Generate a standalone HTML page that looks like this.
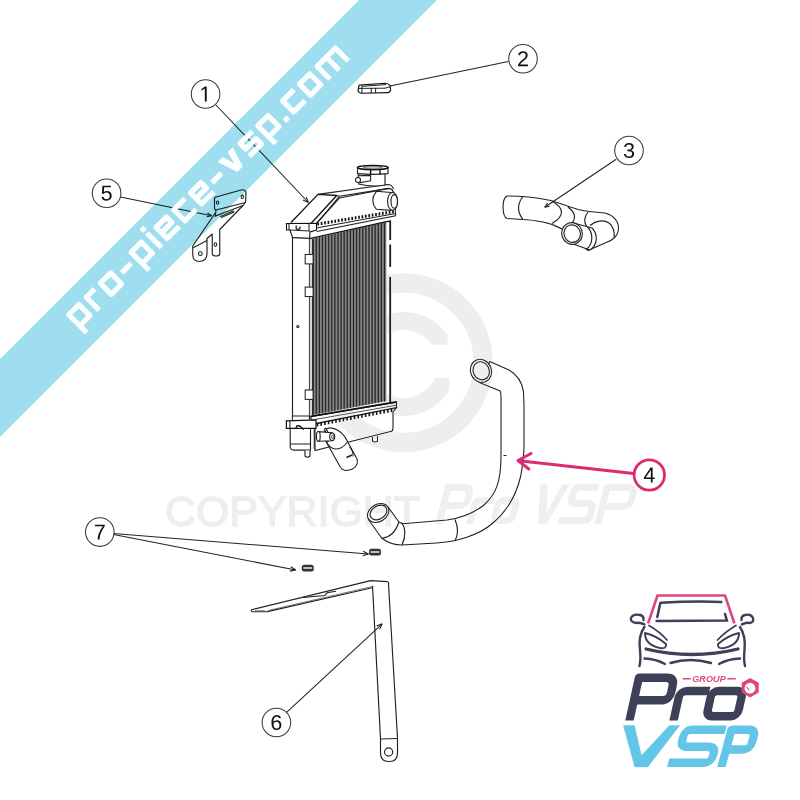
<!DOCTYPE html>
<html><head><meta charset="utf-8"><title>Radiator parts</title>
<style>
html,body{margin:0;padding:0;background:#fff;}
body{width:800px;height:800px;overflow:hidden;font-family:"Liberation Sans",sans-serif;}
svg{display:block;}
.f{fill:#fff;stroke:none;}
</style></head><body>
<svg width="800" height="800" viewBox="0 0 800 800" font-family="Liberation Sans, sans-serif">
<rect width="800" height="800" fill="#fff"/>
<path d="M312,238.9 L386.5,222 L386.5,401 L312,415 Z" fill="#6a6a6a"/>
<line x1="313.20" y1="238.62" x2="313.20" y2="414.69" stroke="#222" stroke-width="1.0"/>
<line x1="314.70" y1="238.62" x2="314.70" y2="414.69" stroke="#9c9c9c" stroke-width="0.7"/>
<line x1="316.30" y1="237.93" x2="316.30" y2="414.12" stroke="#222" stroke-width="1.0"/>
<line x1="317.80" y1="237.93" x2="317.80" y2="414.12" stroke="#9c9c9c" stroke-width="0.7"/>
<line x1="319.40" y1="237.23" x2="319.40" y2="413.54" stroke="#222" stroke-width="1.0"/>
<line x1="320.90" y1="237.23" x2="320.90" y2="413.54" stroke="#9c9c9c" stroke-width="0.7"/>
<line x1="322.50" y1="236.54" x2="322.50" y2="412.97" stroke="#222" stroke-width="1.0"/>
<line x1="324.00" y1="236.54" x2="324.00" y2="412.97" stroke="#9c9c9c" stroke-width="0.7"/>
<line x1="325.60" y1="235.85" x2="325.60" y2="412.40" stroke="#222" stroke-width="1.0"/>
<line x1="327.10" y1="235.85" x2="327.10" y2="412.40" stroke="#9c9c9c" stroke-width="0.7"/>
<line x1="328.70" y1="235.15" x2="328.70" y2="411.83" stroke="#222" stroke-width="1.0"/>
<line x1="330.20" y1="235.15" x2="330.20" y2="411.83" stroke="#9c9c9c" stroke-width="0.7"/>
<line x1="331.80" y1="234.46" x2="331.80" y2="411.26" stroke="#222" stroke-width="1.0"/>
<line x1="333.30" y1="234.46" x2="333.30" y2="411.26" stroke="#9c9c9c" stroke-width="0.7"/>
<line x1="334.90" y1="233.77" x2="334.90" y2="410.69" stroke="#222" stroke-width="1.0"/>
<line x1="336.40" y1="233.77" x2="336.40" y2="410.69" stroke="#9c9c9c" stroke-width="0.7"/>
<line x1="338.00" y1="233.07" x2="338.00" y2="410.12" stroke="#222" stroke-width="1.0"/>
<line x1="339.50" y1="233.07" x2="339.50" y2="410.12" stroke="#9c9c9c" stroke-width="0.7"/>
<line x1="341.10" y1="232.38" x2="341.10" y2="409.55" stroke="#222" stroke-width="1.0"/>
<line x1="342.60" y1="232.38" x2="342.60" y2="409.55" stroke="#9c9c9c" stroke-width="0.7"/>
<line x1="344.20" y1="231.69" x2="344.20" y2="408.98" stroke="#222" stroke-width="1.0"/>
<line x1="345.70" y1="231.69" x2="345.70" y2="408.98" stroke="#9c9c9c" stroke-width="0.7"/>
<line x1="347.30" y1="230.99" x2="347.30" y2="408.41" stroke="#222" stroke-width="1.0"/>
<line x1="348.80" y1="230.99" x2="348.80" y2="408.41" stroke="#9c9c9c" stroke-width="0.7"/>
<line x1="350.40" y1="230.30" x2="350.40" y2="407.83" stroke="#222" stroke-width="1.0"/>
<line x1="351.90" y1="230.30" x2="351.90" y2="407.83" stroke="#9c9c9c" stroke-width="0.7"/>
<line x1="353.50" y1="229.61" x2="353.50" y2="407.26" stroke="#222" stroke-width="1.0"/>
<line x1="355.00" y1="229.61" x2="355.00" y2="407.26" stroke="#9c9c9c" stroke-width="0.7"/>
<line x1="356.60" y1="228.91" x2="356.60" y2="406.69" stroke="#222" stroke-width="1.0"/>
<line x1="358.10" y1="228.91" x2="358.10" y2="406.69" stroke="#9c9c9c" stroke-width="0.7"/>
<line x1="359.70" y1="228.22" x2="359.70" y2="406.12" stroke="#222" stroke-width="1.0"/>
<line x1="361.20" y1="228.22" x2="361.20" y2="406.12" stroke="#9c9c9c" stroke-width="0.7"/>
<line x1="362.80" y1="227.52" x2="362.80" y2="405.55" stroke="#222" stroke-width="1.0"/>
<line x1="364.30" y1="227.52" x2="364.30" y2="405.55" stroke="#9c9c9c" stroke-width="0.7"/>
<line x1="365.90" y1="226.83" x2="365.90" y2="404.98" stroke="#222" stroke-width="1.0"/>
<line x1="367.40" y1="226.83" x2="367.40" y2="404.98" stroke="#9c9c9c" stroke-width="0.7"/>
<line x1="369.00" y1="226.14" x2="369.00" y2="404.41" stroke="#222" stroke-width="1.0"/>
<line x1="370.50" y1="226.14" x2="370.50" y2="404.41" stroke="#9c9c9c" stroke-width="0.7"/>
<line x1="372.10" y1="225.44" x2="372.10" y2="403.84" stroke="#222" stroke-width="1.0"/>
<line x1="373.60" y1="225.44" x2="373.60" y2="403.84" stroke="#9c9c9c" stroke-width="0.7"/>
<line x1="375.20" y1="224.75" x2="375.20" y2="403.27" stroke="#222" stroke-width="1.0"/>
<line x1="376.70" y1="224.75" x2="376.70" y2="403.27" stroke="#9c9c9c" stroke-width="0.7"/>
<line x1="378.30" y1="224.06" x2="378.30" y2="402.69" stroke="#222" stroke-width="1.0"/>
<line x1="379.80" y1="224.06" x2="379.80" y2="402.69" stroke="#9c9c9c" stroke-width="0.7"/>
<line x1="381.40" y1="223.36" x2="381.40" y2="402.12" stroke="#222" stroke-width="1.0"/>
<line x1="382.90" y1="223.36" x2="382.90" y2="402.12" stroke="#9c9c9c" stroke-width="0.7"/>
<line x1="384.50" y1="222.67" x2="384.50" y2="401.55" stroke="#222" stroke-width="1.0"/>
<line x1="386.00" y1="222.67" x2="386.00" y2="401.55" stroke="#9c9c9c" stroke-width="0.7"/>
<path d="M386.5,222 L389.5,221.5 L389.5,401 L386.5,401.5 Z" fill="#fff"/>
<path d="M390.2,219 L390.2,240 M390.2,244.5 L390.2,267 M390.2,277 L390.2,402" stroke="#1a1a1a" stroke-width="1.8"/>
<path d="M292.5,237.5 L309.6,238.3 L309.6,416 L292.5,416 Z" fill="#fff" stroke="#222" stroke-width="1.15"/>
<line x1="309.4" y1="238.5" x2="309.4" y2="416" stroke="#555" stroke-width="0.8"/>
<line x1="312.3" y1="238.9" x2="312.3" y2="415" stroke="#222" stroke-width="1"/>
<rect x="305.2" y="254.5" width="7.9" height="9.4" fill="#fff" stroke="#222" stroke-width="1.05"/>
<rect x="305.2" y="287.1" width="7.9" height="9.4" fill="#fff" stroke="#222" stroke-width="1.05"/>
<rect x="305.2" y="390" width="7.9" height="9.4" fill="#fff" stroke="#222" stroke-width="1.05"/>
<circle cx="297.8" cy="326.5" r="1.1" fill="none" stroke="#222" stroke-width="1.05"/>
<path d="M310,238.5 L310,224 L318,194.4 L387.6,184.5 Q392,184.5 393.5,189 L395.5,210.4 L396,216 L391,221 L386.5,221.6 Z" fill="#fff"/>
<path d="M316.5,223.25 L339.4,198 L388.75,188.4 Q393,189 393.5,193 L395.5,210.4" fill="none" stroke="#222" stroke-width="1.15"/>
<path d="M291,222.5 L318,194.4 L336.75,195.5 L310.5,224" fill="#fff" stroke="#111" stroke-width="1.3" stroke-linejoin="round"/>
<path d="M339.4,196.3 L315.75,224.75 M336.75,195.5 L339.4,196.3" fill="none" stroke="#222" stroke-width="1.15"/>
<path d="M318,194.4 L387.6,184.5 Q392,184.5 393.5,189 M339.4,196.3 L388.75,188.4" fill="none" stroke="#222" stroke-width="1.1"/>
<path d="M316.5,228 L395.5,213.5 M316.75,231.5 L395.5,215.8 L395.5,210.4" fill="none" stroke="#222" stroke-width="1.1"/>
<path d="M309.6,238.6 L386.5,221.6 L391,221" fill="none" stroke="#111" stroke-width="1.3"/>
<line x1="318.2" y1="222.5" x2="318.2" y2="225.6" stroke="#111" stroke-width="1.7"/>
<line x1="321.6" y1="221.9" x2="321.6" y2="225.0" stroke="#111" stroke-width="1.7"/>
<line x1="325.0" y1="221.3" x2="325.0" y2="224.4" stroke="#111" stroke-width="1.7"/>
<line x1="328.4" y1="220.8" x2="328.4" y2="223.9" stroke="#111" stroke-width="1.7"/>
<line x1="331.8" y1="220.2" x2="331.8" y2="223.3" stroke="#111" stroke-width="1.7"/>
<line x1="335.2" y1="219.7" x2="335.2" y2="222.8" stroke="#111" stroke-width="1.7"/>
<line x1="338.6" y1="219.1" x2="338.6" y2="222.2" stroke="#111" stroke-width="1.7"/>
<line x1="342.0" y1="218.5" x2="342.0" y2="221.6" stroke="#111" stroke-width="1.7"/>
<line x1="345.4" y1="218.0" x2="345.4" y2="221.1" stroke="#111" stroke-width="1.7"/>
<line x1="348.8" y1="217.4" x2="348.8" y2="220.5" stroke="#111" stroke-width="1.7"/>
<line x1="352.2" y1="216.9" x2="352.2" y2="220.0" stroke="#111" stroke-width="1.7"/>
<line x1="355.6" y1="216.3" x2="355.6" y2="219.4" stroke="#111" stroke-width="1.7"/>
<line x1="359.0" y1="215.7" x2="359.0" y2="218.8" stroke="#111" stroke-width="1.7"/>
<line x1="362.4" y1="215.2" x2="362.4" y2="218.3" stroke="#111" stroke-width="1.7"/>
<line x1="365.8" y1="214.6" x2="365.8" y2="217.7" stroke="#111" stroke-width="1.7"/>
<line x1="369.2" y1="214.1" x2="369.2" y2="217.2" stroke="#111" stroke-width="1.7"/>
<line x1="372.6" y1="213.5" x2="372.6" y2="216.6" stroke="#111" stroke-width="1.7"/>
<line x1="376.0" y1="212.9" x2="376.0" y2="216.0" stroke="#111" stroke-width="1.7"/>
<line x1="379.4" y1="212.4" x2="379.4" y2="215.5" stroke="#111" stroke-width="1.7"/>
<line x1="382.8" y1="211.8" x2="382.8" y2="214.9" stroke="#111" stroke-width="1.7"/>
<line x1="386.2" y1="211.2" x2="386.2" y2="214.3" stroke="#111" stroke-width="1.7"/>
<line x1="389.6" y1="210.7" x2="389.6" y2="213.8" stroke="#111" stroke-width="1.7"/>
<line x1="393.0" y1="210.1" x2="393.0" y2="213.2" stroke="#111" stroke-width="1.7"/>
<path d="M286.5,223.5 L316.5,223.25 L316.5,230 L310,232 L309.6,238.3 L292.5,237.5 L290,230 L286.5,230 Z" fill="#fff" stroke="#111" stroke-width="1.1"/>
<path d="M289,224 L289,230 M290,230 L310,231 M309,223.5 L309,231" fill="none" stroke="#222" stroke-width="1.05"/>
<path d="M296.2,225.5 L296.2,228.8 Q298,229.8 300,228.8 L300,226.5" fill="none" stroke="#111" stroke-width="1.2"/>
<path d="M376.4,191.3 L391,192.4 L391,210.4 L376.4,209.3 Q369,200.3 376.4,191.3 Z" fill="#fff" stroke="#222" stroke-width="1.1"/>
<ellipse cx="392.6" cy="201.4" rx="5" ry="9" fill="#fff" stroke="#222" stroke-width="1.1"/>
<ellipse cx="394.2" cy="201.4" rx="3.2" ry="6.8" fill="#fff" stroke="#222" stroke-width="1.15"/>
<path d="M358.75,173.5 L358.75,184 Q372,187.5 385,185 L385,173.5 Z" fill="#fff" stroke="#222" stroke-width="1.15"/>
<path d="M358,175.8 L370.6,175.4 L370.6,180.8 Q366,182 360,182.6 Z" fill="#fff" stroke="#222" stroke-width="1.1"/>
<circle cx="358" cy="180" r="2.5" fill="#fff" stroke="#222" stroke-width="1.1"/>
<path d="M357.5,167.6 L357.5,173.6 Q373,175.2 388,173.6 L388,167.6 Z" fill="#fff" stroke="#222" stroke-width="1.15"/>
<ellipse cx="372.8" cy="167.6" rx="15.3" ry="2.1" fill="#fff" stroke="#111" stroke-width="1.5"/>
<ellipse cx="372.8" cy="167.8" rx="9.5" ry="0.9" fill="none" stroke="#666" stroke-width="0.9"/>
<path d="M370.6,169.5 L370.6,174.5 M380,169.5 L380,174.5" stroke="#111" stroke-width="1.4"/>
<path d="M315,424 L396.5,407.5 L393,412 L393,428.5 Q393,431.2 390.4,431.5 L315,450.5 Z" fill="#fff" stroke="#222" stroke-width="1.1"/>
<path d="M310,416.8 L396.5,402.25 L396.5,407.5 L315,423.5 Z" fill="#fff" stroke="#222" stroke-width="1.15"/>
<path d="M310.75,416.3 L396.5,401.8" fill="none" stroke="#111" stroke-width="1.8"/>
<path d="M313,419.8 L396.5,405.2" fill="none" stroke="#222" stroke-width="0.8"/>
<line x1="317.5" y1="422.8" x2="317.5" y2="426.4" stroke="#111" stroke-width="1.6"/>
<line x1="321.2" y1="422.1" x2="321.2" y2="425.7" stroke="#111" stroke-width="1.6"/>
<line x1="324.9" y1="421.3" x2="324.9" y2="424.9" stroke="#111" stroke-width="1.6"/>
<line x1="328.6" y1="420.6" x2="328.6" y2="424.2" stroke="#111" stroke-width="1.6"/>
<line x1="332.3" y1="419.9" x2="332.3" y2="423.5" stroke="#111" stroke-width="1.6"/>
<line x1="336.0" y1="419.2" x2="336.0" y2="422.8" stroke="#111" stroke-width="1.6"/>
<line x1="339.7" y1="418.5" x2="339.7" y2="422.1" stroke="#111" stroke-width="1.6"/>
<line x1="343.4" y1="417.8" x2="343.4" y2="421.4" stroke="#111" stroke-width="1.6"/>
<line x1="347.1" y1="417.0" x2="347.1" y2="420.6" stroke="#111" stroke-width="1.6"/>
<line x1="350.8" y1="416.3" x2="350.8" y2="419.9" stroke="#111" stroke-width="1.6"/>
<line x1="354.5" y1="415.6" x2="354.5" y2="419.2" stroke="#111" stroke-width="1.6"/>
<line x1="358.2" y1="414.9" x2="358.2" y2="418.5" stroke="#111" stroke-width="1.6"/>
<line x1="361.9" y1="414.2" x2="361.9" y2="417.8" stroke="#111" stroke-width="1.6"/>
<line x1="365.6" y1="413.4" x2="365.6" y2="417.0" stroke="#111" stroke-width="1.6"/>
<line x1="369.3" y1="412.7" x2="369.3" y2="416.3" stroke="#111" stroke-width="1.6"/>
<line x1="373.0" y1="412.0" x2="373.0" y2="415.6" stroke="#111" stroke-width="1.6"/>
<line x1="376.7" y1="411.3" x2="376.7" y2="414.9" stroke="#111" stroke-width="1.6"/>
<line x1="380.4" y1="410.6" x2="380.4" y2="414.2" stroke="#111" stroke-width="1.6"/>
<line x1="384.1" y1="409.9" x2="384.1" y2="413.5" stroke="#111" stroke-width="1.6"/>
<line x1="387.8" y1="409.1" x2="387.8" y2="412.7" stroke="#111" stroke-width="1.6"/>
<line x1="391.5" y1="408.4" x2="391.5" y2="412.0" stroke="#111" stroke-width="1.6"/>
<path d="M290.2,428.3 L290.2,447 Q290.5,450.1 294.25,450.1 L310.5,450.1 L310.5,428.3 Z" fill="#fff" stroke="#222" stroke-width="1.15"/>
<path d="M290.2,443.9 L310.5,443.9 M314.25,428.5 L314.25,449" fill="none" stroke="#222" stroke-width="1.05"/>
<path d="M292.4,416 L292.4,420.8 M309.4,416 L309.4,420.8" fill="none" stroke="#222" stroke-width="1.05"/>
<path d="M286.4,420.8 L316,419.8 L316,428.3 L286.4,428.3 Z" fill="#fff" stroke="#111" stroke-width="1.2"/>
<path d="M289.9,421 L289.9,428.3" fill="none" stroke="#222" stroke-width="1.05"/>
<path d="M296,428.6 L296.6,426.2 Q298.5,425.2 300.5,426.4 L303.6,429.6" fill="none" stroke="#111" stroke-width="1.3"/>
<path d="M305,450.5 L305,456 Q307.5,458.5 310,456 L310,450.5" fill="#fff" stroke="#222" stroke-width="1.15"/>
<path d="M372.5,437 L372.5,441 Q375,443 377.5,441 L377.5,436" fill="#fff" stroke="#222" stroke-width="1.15"/>
<path d="M327,428.5 C334,426 343,432 347.5,441.5 L357,459 C359,466 352,471 345.5,470.5 C343,470 341.5,469 340.5,467.5 L325.5,440.5 C324.5,436 325,430 327,428.5 Z" fill="#fff" stroke="#222" stroke-width="1.1"/>
<path d="M326,440.5 C330,451 340,452 347.5,442 M349.5,447 Q353.5,451 353,456.5" fill="none" stroke="#222" stroke-width="1.05"/>
<path d="M346.5,457.5 L352,455" stroke="#222" stroke-width="1.8"/>
<ellipse cx="326.6" cy="434.8" rx="1.7" ry="6.8" transform="rotate(-12 326.6 434.8)" fill="none" stroke="#222" stroke-width="1.05"/>
<path d="M318.5,431.6 L332,432.8 L332,440.8 L318.5,441.2 Z" fill="#fff" stroke="#222" stroke-width="1.15"/>
<ellipse cx="318.3" cy="436.4" rx="1.9" ry="4.9" fill="#fff" stroke="#222" stroke-width="1.15"/>
<ellipse cx="332.2" cy="436.8" rx="2.5" ry="3.8" fill="#fff" stroke="#222" stroke-width="1.15"/>
<ellipse cx="332.8" cy="436.8" rx="1.1" ry="2" fill="none" stroke="#222" stroke-width="0.8"/>
<path d="M489.75,361.4 L509,370.1 C516,374 522,382 523.5,392 L524,405.6 L524,445 C524,460 522,468 520.6,476.5 C516,496 506,512 493,523 C478,536 455,542 436.6,543 L402,545 C395,545 387,542 381.8,538.2 L368.4,519.5 L388.3,507.3 L398.9,522 L402.5,523.75 L447,520 C462,518 475,512 484,505 C496,494 501,482 501,455.5 L501,400 C501,393 500.5,391.5 500.25,391.1 L479.25,382.4 Z" fill="#fff" stroke="#222" stroke-width="1.1" stroke-linejoin="round"/>
<ellipse cx="481" cy="370.8" rx="10.4" ry="11.7" transform="rotate(-25 481 370.8)" fill="#fff" stroke="#222" stroke-width="1.1"/>
<ellipse cx="481.2" cy="370.8" rx="8" ry="9.2" transform="rotate(-25 481.2 370.8)" fill="#fff" stroke="#222" stroke-width="1.15"/>
<line x1="503.5" y1="455.5" x2="506.5" y2="455.5" stroke="#222" stroke-width="1.05"/>
<path d="M455,519.5 Q460,531 455,541" fill="none" stroke="#222" stroke-width="1.15"/>
<path d="M401.7,522.75 Q408,531 402,545" fill="none" stroke="#222" stroke-width="1.15"/>
<path d="M381.8,538.2 Q394,537 398.9,522" fill="none" stroke="#222" stroke-width="1.15"/>
<ellipse cx="378.2" cy="513" rx="11.4" ry="8.6" transform="rotate(-32 378.2 513)" fill="#fff" stroke="#222" stroke-width="1.1"/>
<ellipse cx="378.5" cy="512.5" rx="9" ry="6.6" transform="rotate(-32 378.5 512.5)" fill="#fff" stroke="#222" stroke-width="1.15"/>
<path d="M507,196 C520,196 536,197.5 548,200 C556,201.5 566,206 578,209.5 C588,212 598,212 605,213 C613,215 618.5,221 618.5,228 C618.5,236 612,241 605,243 L588,250.5 L562,229 C555,225 548,223 543,222 C535,220.5 528,219.5 523,219.5 L507,218.5 C502,216 501.5,199 507,196 Z" fill="#fff" stroke="#222" stroke-width="1.1" stroke-linejoin="round"/>
<path d="M523,196.5 Q514,208 523,219.5 M552,201 Q571,212 552,223.5 M568,207 Q578.5,215 572,223 M588,212 Q582,220 587,227" fill="none" stroke="#222" stroke-width="1.15"/>
<path d="M590,225.5 C595,221 603,219 609,223 C613,226 615,232 614,237" fill="none" stroke="#222" stroke-width="1.15"/>
<path d="M572,222.5 L592,228 C598,234 598,245 590,250 L573,244 Z" fill="#fff" stroke="#222" stroke-width="1.1" stroke-linejoin="round"/>
<path d="M587.5,227 C593.5,233 593.5,244 586,249.5" fill="none" stroke="#222" stroke-width="1.15"/>
<ellipse cx="572" cy="233.5" rx="10.3" ry="10.9" transform="rotate(-20 572 233.5)" fill="#fff" stroke="#222" stroke-width="1.1"/>
<ellipse cx="572.2" cy="233.6" rx="8.2" ry="8.8" transform="rotate(-20 572.2 233.6)" fill="#fff" stroke="#222" stroke-width="1.15"/>
<path d="M359.4,85.1 L385,83.25 Q388,83.5 390,85.4 L390.6,90.1 Q390,92.5 387.5,92.6 L361.9,93.25 Q358.5,93 358.1,90.75 L358.75,86.4 Q358.9,85.3 359.4,85.1 Z" fill="#fff" stroke="#111" stroke-width="1.2" stroke-linejoin="round"/>
<path d="M358.6,88.4 L385,88.2 L390.4,86.6 M361.9,86 L361.9,93.2 M371.25,88 L371.25,93 M375.6,88 L375.6,93 M362,86.3 L386,84.6" fill="none" stroke="#222" stroke-width="1"/>
<path d="M215.25,213 L192.75,246 L192.75,255 Q193,261.5 199.5,261.5 Q207,261 207,253.5 L207,238.5 L212.25,234 L212.25,253.5 Q212.5,256 216,256 Q219.75,256 219.75,253.5 L219.75,229.5 L243,205.5" fill="#fff" stroke="#222" stroke-width="1.15" stroke-linejoin="round"/>
<path d="M193.2,247.8 L207,240.5" fill="none" stroke="#222" stroke-width="1.05"/>
<path d="M216,210 L215.25,216 L243,205.5 L245.25,202.5" fill="none" stroke="#222" stroke-width="1.15"/>
<path d="M220.5,216.5 L233,211 Q234.5,211 233.5,212.3 L221.5,217.5 Z" fill="none" stroke="#222" stroke-width="1.05"/>
<path d="M214.5,198.5 Q214.5,197.5 216,197 L242,189.8 Q245.5,189.5 246,193 L245.5,202.5 L216,210 Q214.5,210 214.5,208 Z" fill="#fff" stroke="#222" stroke-width="1.15" stroke-linejoin="round"/>
<ellipse cx="217.6" cy="202.6" rx="1.2" ry="1.7" fill="none" stroke="#222" stroke-width="1.05"/>
<ellipse cx="242.3" cy="196.8" rx="1.2" ry="1.7" fill="none" stroke="#222" stroke-width="1.05"/>
<circle cx="200.3" cy="253.6" r="1.9" fill="none" stroke="#222" stroke-width="1.05"/>
<ellipse cx="215.4" cy="244.6" rx="1.3" ry="1.8" fill="none" stroke="#222" stroke-width="1.05"/>
<path d="M251.6,609.7 L370.6,580.6 L387.5,581.6 L388.7,583 L374.4,587.2 L267.5,611.6 L252.5,611.8 Q250.5,611 251.6,609.7 Z" fill="#fff" stroke="#222" stroke-width="1.15" stroke-linejoin="round"/>
<path d="M268.6,610.4 L373.5,586.3 M268.6,610.4 L268.6,611.7 M255,610.8 L265,610.8" fill="none" stroke="#555" stroke-width="0.8"/>
<path d="M372.5,585.7 L380.5,739 L380.5,753 Q380.5,761.5 388.5,761.5 L389.5,761.5 Q397.5,761.5 397.5,753 L397.5,738 L388.4,582" fill="#fff" stroke="#222" stroke-width="1.15"/>
<path d="M380.5,739 L397.5,738.5" fill="none" stroke="#222" stroke-width="1.15"/>
<circle cx="388.6" cy="752" r="4.1" fill="none" stroke="#222" stroke-width="1.15"/>
<path d="M303,597.5 L325,595.5 L327,592.8 L336,591.3" fill="none" stroke="#222" stroke-width="1.1"/>
<rect x="369" y="548.8" width="12" height="6.6" rx="2.5" fill="#333"/>
<rect x="370.5" y="551.0999999999999" width="9" height="1.8" fill="#ccc"/>
<rect x="301.8" y="564.8" width="12" height="6.6" rx="2.5" fill="#333"/>
<rect x="303.3" y="567.0999999999999" width="9" height="1.8" fill="#ccc"/>
<line x1="216" y1="105" x2="308.4" y2="202.5" stroke="#222" stroke-width="1.05"/><path d="M308.40,202.50 L306.20,196.92 M308.40,202.50 L302.94,200.01" fill="none" stroke="#222" stroke-width="1.05"/>
<line x1="508.4" y1="61.4" x2="390" y2="86" stroke="#222" stroke-width="1.05"/>
<line x1="616.2" y1="159.2" x2="544.7" y2="207.2" stroke="#222" stroke-width="1.05"/><path d="M544.70,207.20 L549.59,206.17 M544.70,207.20 L547.51,203.06" fill="none" stroke="#222" stroke-width="1.05"/>
<line x1="120.5" y1="197" x2="211.6" y2="215.8" stroke="#222" stroke-width="1.05"/><path d="M211.60,215.80 L207.44,213.03 M211.60,215.80 L206.68,216.70" fill="none" stroke="#222" stroke-width="1.05"/>
<line x1="286.6" y1="712.3" x2="382.2" y2="623.8" stroke="#222" stroke-width="1.05"/><path d="M382.20,623.80 L376.59,625.93 M382.20,623.80 L379.64,629.23" fill="none" stroke="#222" stroke-width="1.05"/>
<line x1="113.5" y1="533.5" x2="368.5" y2="554" stroke="#222" stroke-width="1.05"/><path d="M368.50,554.00 L363.13,551.31 M368.50,554.00 L362.77,555.79" fill="none" stroke="#222" stroke-width="1.05"/>
<line x1="113.5" y1="534.5" x2="295.75" y2="570" stroke="#222" stroke-width="1.05"/><path d="M295.75,570.00 L290.72,566.73 M295.75,570.00 L289.86,571.14" fill="none" stroke="#222" stroke-width="1.05"/>
<g style="mix-blend-mode:darken">
<circle cx="403.5" cy="362.7" r="79.7" fill="none" stroke="#eeeeee" stroke-width="19.3"/>
<path fill="#eeeeee" d="M447.7,335.8 A52,52 0 1,0 449.4,389.4 L449.4,378 L435,378 A34,34 0 1,1 432,344.7 L447.7,344.7 Z"/>
<text x="165" y="526" font-size="42" font-family="Liberation Sans, sans-serif" fill="#eeeeee" stroke="#eeeeee" stroke-width="1.4" textLength="255" lengthAdjust="spacingAndGlyphs">COPYRIGHT</text>
</g>
<g style="mix-blend-mode:darken">
<g transform="matrix(1,0,-0.25,1,131.0,0)" fill="none" stroke="#efefef" stroke-width="6.9">
<path d="M438.75,524 L438.75,487.5 L455,487.5 Q461.7,487.5 461.7,494 L461.7,499 Q461.7,505.5 455,505.5 L442,505.5" stroke-linejoin="round"/>
<path d="M469.7,524 L469.7,506 Q469.7,500.5 475,500.5 L487.9,500.5"/>
<rect x="493" y="500.5" width="18" height="20" rx="4.5"/>
<path d="M589.5,487.3 L571,487.3 Q565.4,487.3 565.4,493 L565.4,497.8 Q565.4,503.5 571,503.5 L582.5,503.5 Q588.2,503.5 588.2,509 L588.2,515 Q588.2,520.6 582.5,520.6 L557.3,520.6"/>
<path d="M598,524 L598,487.6 L619,487.6 Q625.3,487.6 625.3,494 L625.3,500 Q625.3,506.5 619,506.5 L601,506.5" stroke-linejoin="round"/>
</g>
<polygon points="540.3,484.2 547.4,484.2 547,512 562.3,484.2 569.9,484.2 546.5,524 538.25,524" fill="#efefef"/>
</g>
<polygon points="359,0 437,0 0,437 0,359" fill="#9fdeef" style="mix-blend-mode:multiply"/>
<g transform="rotate(-45)" fill="none" stroke="#fff" stroke-width="5.2" stroke-linejoin="round" opacity="0.96">
<path d="M-173.9,296.5 V271.20000000000005 H-159.6 V286.79999999999995 H-173.9"/>
<path d="M-149.16,289.4 V271.20000000000005 H-137.26"/>
<path d="M-129.42,271.20000000000005 H-114.81999999999998 V286.79999999999995 H-129.42 Z"/>
<path d="M-106.97999999999999,279.0 H-93.47999999999999"/>
<path d="M-85.63999999999999,296.5 V271.20000000000005 H-71.33999999999997 V286.79999999999995 H-85.63999999999999"/>
<path d="M-60.89999999999998,289.4 V268.6"/>
<path d="M-63.49999999999998,266 h5.2 v-5.3 h-5.2 Z" class="f"/>
<path d="M-33.25999999999998,286.79999999999995 H-50.45999999999997 V271.20000000000005 H-35.85999999999998 V279.0 H-50.45999999999997"/>
<path d="M-9.519999999999975,271.20000000000005 H-25.419999999999973 V286.79999999999995 H-9.519999999999975"/>
<path d="M15.520000000000028,286.79999999999995 H-1.6799999999999726 V271.20000000000005 H12.920000000000028 V279.0 H-1.6799999999999726"/>
<path d="M20.760000000000026,279.0 H34.260000000000026"/>
<path d="M39.50000000000003,268.6 H46.50000000000003 L50.00000000000003,281.4 L53.50000000000003,268.6 H60.50000000000003 L54.00000000000003,289.4 H46.00000000000003 Z" class="f"/>
<path d="M85.54000000000003,271.20000000000005 H68.34000000000003 V279.0 H82.94000000000004 V286.79999999999995 H65.74000000000004"/>
<path d="M93.38000000000002,296.5 V271.20000000000005 H107.68000000000004 V286.79999999999995 H93.38000000000002"/>
<path d="M115.52000000000004,289.4 h5.2 v-5.2 h-5.2 Z" class="f"/>
<path d="M144.46000000000004,271.20000000000005 H128.56000000000003 V286.79999999999995 H144.46000000000004"/>
<path d="M152.30000000000004,271.20000000000005 H166.90000000000006 V286.79999999999995 H152.30000000000004 Z"/>
<path d="M177.34000000000003,289.4 V271.20000000000005 H203.14000000000004 V289.4 M190.24000000000004,271.20000000000005 V289.4"/>
</g>
<circle cx="205.6" cy="94" r="14.3" fill="#fff" stroke="#3a3a3a" stroke-width="1.05"/><path d="M515,0 L515,1237 L197,1010 L197,1180 L530,1409 L696,1409 L696,0 Z" fill="#111" transform="translate(199.406,101.396) scale(0.010498,-0.010498)"/>
<circle cx="523" cy="58.7" r="14.3" fill="#fff" stroke="#3a3a3a" stroke-width="1.05"/><path d="M103 0V127Q154 244 227.5 333.5Q301 423 382.0 495.5Q463 568 542.5 630.0Q622 692 686.0 754.0Q750 816 789.5 884.0Q829 952 829 1038Q829 1154 761.0 1218.0Q693 1282 572 1282Q457 1282 382.5 1219.5Q308 1157 295 1044L111 1061Q131 1230 254.5 1330.0Q378 1430 572 1430Q785 1430 899.5 1329.5Q1014 1229 1014 1044Q1014 962 976.5 881.0Q939 800 865.0 719.0Q791 638 582 468Q467 374 399.0 298.5Q331 223 301 153H1036V0Z" fill="#111" transform="translate(517.021,66.206) scale(0.010498,-0.010498)"/>
<circle cx="629" cy="150.5" r="14.3" fill="#fff" stroke="#3a3a3a" stroke-width="1.05"/><path d="M1049 389Q1049 194 925.0 87.0Q801 -20 571 -20Q357 -20 229.5 76.5Q102 173 78 362L264 379Q300 129 571 129Q707 129 784.5 196.0Q862 263 862 395Q862 510 773.5 574.5Q685 639 518 639H416V795H514Q662 795 743.5 859.5Q825 924 825 1038Q825 1151 758.5 1216.5Q692 1282 561 1282Q442 1282 368.5 1221.0Q295 1160 283 1049L102 1063Q122 1236 245.5 1333.0Q369 1430 563 1430Q775 1430 892.5 1331.5Q1010 1233 1010 1057Q1010 922 934.5 837.5Q859 753 715 723V719Q873 702 961.0 613.0Q1049 524 1049 389Z" fill="#111" transform="translate(623.084,157.901) scale(0.010498,-0.010498)"/>
<circle cx="106.6" cy="193.2" r="14.3" fill="#fff" stroke="#3a3a3a" stroke-width="1.05"/><path d="M1053 459Q1053 236 920.5 108.0Q788 -20 553 -20Q356 -20 235.0 66.0Q114 152 82 315L264 336Q321 127 557 127Q702 127 784.0 214.5Q866 302 866 455Q866 588 783.5 670.0Q701 752 561 752Q488 752 425.0 729.0Q362 706 299 651H123L170 1409H971V1256H334L307 809Q424 899 598 899Q806 899 929.5 777.0Q1053 655 1053 459Z" fill="#111" transform="translate(100.642,200.491) scale(0.010498,-0.010498)"/>
<circle cx="276.4" cy="722.5" r="14.3" fill="#fff" stroke="#3a3a3a" stroke-width="1.05"/><path d="M1049 461Q1049 238 928.0 109.0Q807 -20 594 -20Q356 -20 230.0 157.0Q104 334 104 672Q104 1038 235.0 1234.0Q366 1430 608 1430Q927 1430 1010 1143L838 1112Q785 1284 606 1284Q452 1284 367.5 1140.5Q283 997 283 725Q332 816 421.0 863.5Q510 911 625 911Q820 911 934.5 789.0Q1049 667 1049 461ZM866 453Q866 606 791.0 689.0Q716 772 582 772Q456 772 378.5 698.5Q301 625 301 496Q301 333 381.5 229.0Q462 125 588 125Q718 125 792.0 212.5Q866 300 866 453Z" fill="#111" transform="translate(270.348,729.901) scale(0.010498,-0.010498)"/>
<circle cx="99.8" cy="532.1" r="14.3" fill="#fff" stroke="#3a3a3a" stroke-width="1.05"/><path d="M1036 1263Q820 933 731.0 746.0Q642 559 597.5 377.0Q553 195 553 0H365Q365 270 479.5 568.5Q594 867 862 1256H105V1409H1036Z" fill="#111" transform="translate(93.811,539.496) scale(0.010498,-0.010498)"/>
<line x1="633.5" y1="473.5" x2="519" y2="460.7" stroke="#de2a73" stroke-width="3"/>
<path d="M531,453.5 L518,460.5 L528.8,469" fill="none" stroke="#de2a73" stroke-width="3" stroke-linecap="round" stroke-linejoin="round"/>
<circle cx="649.3" cy="475" r="15.2" fill="#fff" stroke="#de2a73" stroke-width="2.8"/>
<path d="M881 319V0H711V319H47V459L692 1409H881V461H1079V319ZM711 1206Q709 1200 683.0 1153.0Q657 1106 644 1087L283 555L229 481L213 461H711Z" fill="#111" transform="translate(643.390,482.396) scale(0.010498,-0.010498)"/>
<path d="M648.1,623.4 L657.5,595.5 L725,595.5 L734.4,623.4" fill="none" stroke="#e0457b" stroke-width="2.6" stroke-linejoin="round"/>
<path d="M661,602.8 Q690,601 721.3,601.9 M660.3,603 L657.3,617 M656.6,621 L726.9,620.6 L725,614" fill="none" stroke="#3d4057" stroke-width="2.5" stroke-linecap="round"/>
<path d="M644.4,624.4 Q640,622 636,623 Q630,622 631,618 Q633,613.5 640,615 Q644,616 643.5,620" fill="none" stroke="#3d4057" stroke-width="2.4" stroke-linecap="round"/>
<path d="M741.9,624.4 Q746,622 750,623 Q754,622 753,618 Q751,613.5 745,615 Q741,616 741.5,620" fill="none" stroke="#3d4057" stroke-width="2.4" stroke-linecap="round"/>
<path d="M644.4,627 Q638,636 640,650 Q641,660 639.5,666 M740,627 Q746,636 744.5,650 Q743.5,660 745,666" fill="none" stroke="#3d4057" stroke-width="2.4" stroke-linecap="round"/>
<path d="M649,625.5 Q660,632 667,640 M736,625.5 Q725,632 717.5,640" fill="none" stroke="#3d4057" stroke-width="1.8" stroke-linecap="round"/>
<path d="M645,633 Q645,645 660,648 Q667,649 666,644 Q657,636 645,633 Z M739,633 Q739,645 724,648 Q717,649 718,644 Q727,636 739,633 Z" fill="none" stroke="#3d4057" stroke-width="2" stroke-linejoin="round"/>
<path d="M646,649 Q692,660 738,649" fill="none" stroke="#3d4057" stroke-width="3.3" stroke-linecap="round"/>
<path d="M670.5,663 Q690,657 711,663 M644.5,658.5 Q656,659 665,664 M740,658.5 Q728,659 719,664" fill="none" stroke="#3d4057" stroke-width="2.4" stroke-linecap="round"/>
<text x="709" y="682" text-anchor="middle" font-size="8.6" font-style="italic" font-weight="bold" font-family="Liberation Sans, sans-serif" fill="#e0457b" textLength="33.5" lengthAdjust="spacingAndGlyphs">GROUP</text>
<path d="M682.7,678.8 L690.6,678.8 M727.3,678.8 L735.8,678.8" stroke="#e0457b" stroke-width="1.5"/>
<g transform="matrix(1,0,-0.2200,1,158.510,0)">
<path d="M629.5,720.5 L629.5,677.8 L657,677.8 Q665,677.8 665,686 L665,692 Q665,700.3 657,700.3 L633,700.3" fill="none" stroke="#3d4057" stroke-width="8.4" stroke-linejoin="round"/>
<path d="M673.6,720.5 L673.6,698 Q673.6,691 681,691 L703,691" fill="none" stroke="#3d4057" stroke-width="8.4"/>
<rect x="705.5" y="691" width="30.9" height="25.3" rx="6" fill="none" stroke="#3d4057" stroke-width="8.4"/>
</g>
<polygon points="758.69,692.60 750.20,697.50 741.71,692.60 741.71,682.80 750.20,677.90 758.69,682.80" fill="#e0457b"/>
<circle cx="750" cy="688.2" r="5.4" fill="#fff"/>
<line x1="746.3" y1="686.8" x2="749.2" y2="690.2" stroke="#3d4057" stroke-width="0.9"/>
<polygon points="623.4,725.6 634.4,725.6 641.5,755.5 669.4,725.6 679.7,725.6 647.8,766.9 634.7,766.9" fill="#63c5e8" stroke="#63c5e8" stroke-width="0.4" stroke-linejoin="round"/>
<g transform="matrix(1,0,-0.2700,1,207.090,0)">
<path d="M715.6,729.8 L682,729.8 Q675,729.8 675,737 L675,739.5 Q675,746.7 682,746.7 L702,746.7 Q710,746.7 710,754 L710,755.5 Q710,762.7 703,762.7 L667,762.7" fill="none" stroke="#63c5e8" stroke-width="8.4"/>
<path d="M721.4,767 L721.4,729.8 L738,729.8 Q745.4,729.8 745.4,737 L745.4,742.5 Q745.4,749.5 738,749.5 L725,749.5" fill="none" stroke="#63c5e8" stroke-width="8.4" stroke-linejoin="round"/>
</g>
</svg>
</body></html>
